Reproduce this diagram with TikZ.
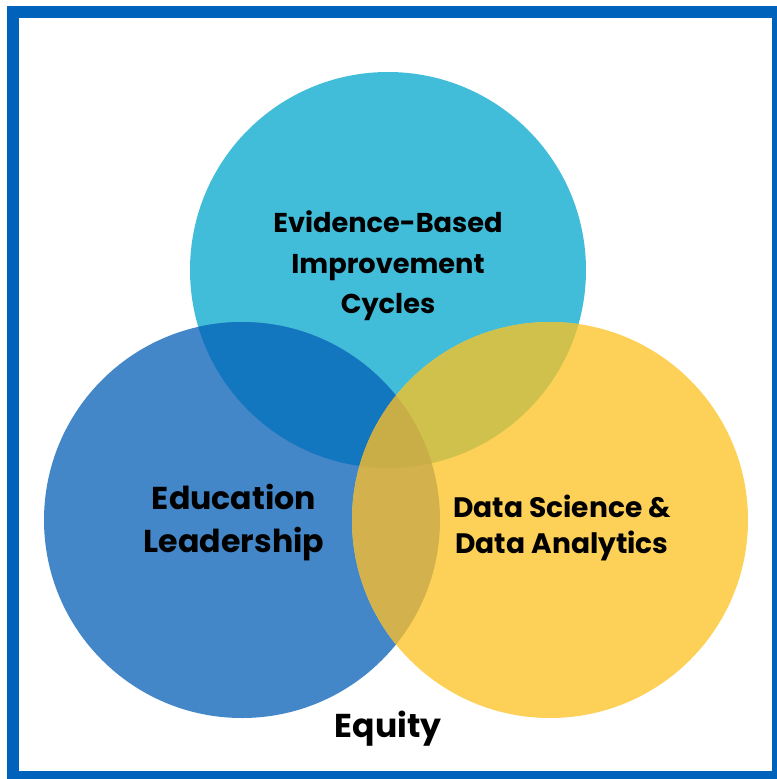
\documentclass[tikz,border=0pt]{standalone}
\usepackage{fontspec}
\setmainfont{Poppins}[BoldFont={Poppins Bold}]
\usepackage{tikz}

\definecolor{frameblue}{HTML}{0062BA}
\definecolor{cyancirc}{HTML}{41BDDA}
\definecolor{bluecirc}{HTML}{4387C8}
\definecolor{yellowcirc}{HTML}{FDD157}
\definecolor{cyanblue}{HTML}{1277BF}
\definecolor{cyanyellow}{HTML}{CFC14B}
\definecolor{blueyellow}{HTML}{D3B14C}
\definecolor{allthree}{HTML}{C9AE48}

\begin{document}
\begin{tikzpicture}[x=0.02cm,y=-0.02cm]
      \useasboundingbox (0,0) rectangle (777,779);
      \clip (0,0) rectangle (777,779);
      \fill[white] (0,0) rectangle (777,779);
      % outer frame
      \draw[frameblue,line width=12*0.02cm] (13,12) rectangle (778,777);

      % circle centres
      \coordinate (ctop) at (388,270);
      \coordinate (cleft) at (242,520);
      \coordinate (cright) at (550,520);

      \fill[cyancirc] (ctop) circle (198);
      \fill[bluecirc] (cleft) circle (198);
      \fill[yellowcirc] (cright) circle (198);

      % overlaps
      \begin{scope}
        \clip (ctop) circle (198);
        \fill[cyanblue] (cleft) circle (198);
        \fill[cyanyellow] (cright) circle (198);
      \end{scope}
      \begin{scope}
        \clip (cleft) circle (198);
        \fill[blueyellow] (cright) circle (198);
        \clip (cright) circle (198);
        \fill[allthree] (ctop) circle (198);
      \end{scope}

      \begin{scope}[every node/.style={align=center,font=\bfseries\fontsize{15.5}{23}\selectfont}]
        \node (evidence) at (388,266) {Evidence-Based\\Improvement\\Cycles};
        \node[font=\bfseries\fontsize{18}{24.5}\selectfont] (leadership) at (234,523) {Education\\Leadership};
        \node[font=\bfseries\fontsize{16}{20.5}\selectfont] (datasci) at (562,528) {Data Science \&\\Data Analytics};
        \node[font=\bfseries\fontsize{18.8}{22}\selectfont] (equity) at (388,729) {Equity};
      \end{scope}
    \end{tikzpicture}
\end{document}
